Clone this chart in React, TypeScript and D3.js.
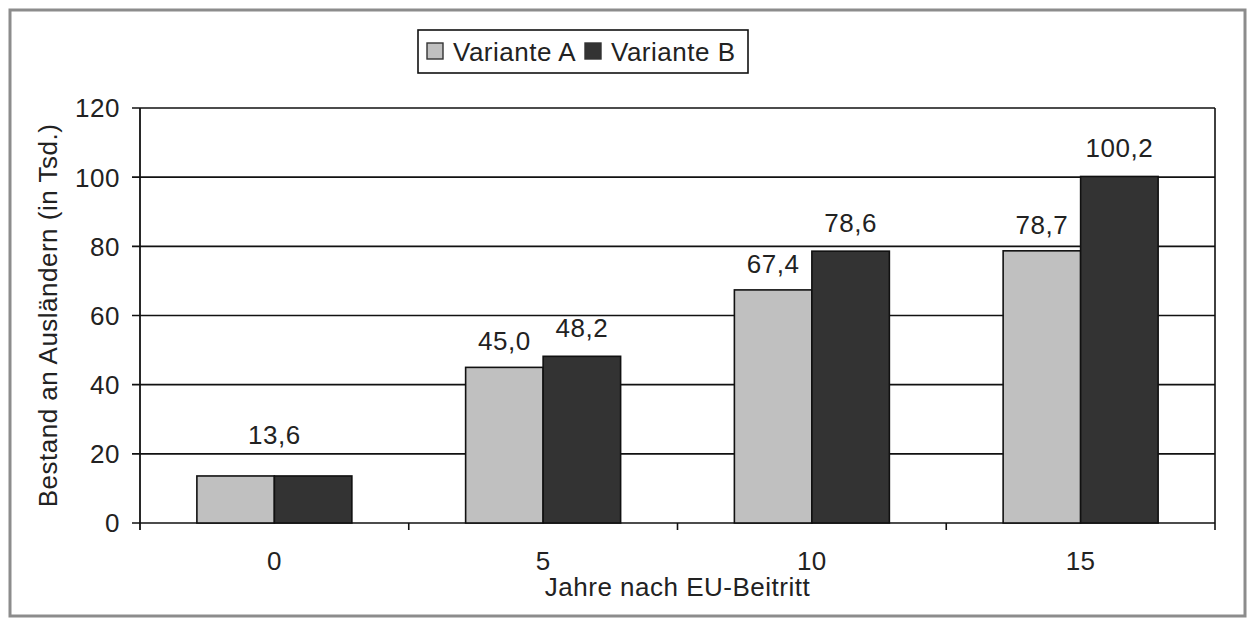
import { useEffect, useRef } from "react";
import * as d3 from "d3";

const categories = ["0", "5", "10", "15"];
const seriesNames = ["Variante A", "Variante B"];
const valuesA = [13.6, 45.0, 67.4, 78.7];
const valuesB = [13.6, 48.2, 78.6, 100.2];
const yTicks = [0, 20, 40, 60, 80, 100, 120];
const colors = ["#c0c0c0", "#333333"];

const xTitle = "Jahre nach EU-Beitritt";
const yTitle = "Bestand an Ausländern (in Tsd.)";

export default function App() {
  const ref = useRef<SVGSVGElement | null>(null);

  useEffect(() => {
    if (!ref.current) return;

    const W = 1254;
    const H = 618;
    const margin = { top: 108, right: 39, bottom: 95, left: 140 };
    const width = W - margin.left - margin.right;
    const height = H - margin.top - margin.bottom;
    const font = "'Liberation Sans', Arial, sans-serif";
    const fontSize = 26;
    const spacing = 0.5;
    const textColor = "#222";

    const root = d3.select(ref.current);
    root.selectAll("*").remove();
    root.attr("width", W).attr("height", H);

    root
      .append("rect")
      .attr("width", W)
      .attr("height", H)
      .attr("fill", "#fff");

    // outer frame
    root
      .append("rect")
      .attr("x", 10)
      .attr("y", 10)
      .attr("width", 1235)
      .attr("height", 606)
      .attr("fill", "none")
      .attr("stroke", "#8c8c8c")
      .attr("stroke-width", 3);

    const svg = root
      .append("g")
      .attr("transform", `translate(${margin.left},${margin.top})`);

    const x = d3.scaleBand().domain(categories).range([0, width]).padding(0);
    const xs = d3
      .scaleBand()
      .domain(seriesNames)
      .range([0, x.bandwidth()])
      .paddingInner(0)
      .paddingOuter(0.734);
    const y = d3.scaleLinear().domain([0, 120]).range([height, 0]);

    const fmt = d3.formatLocale({
      decimal: ",",
      thousands: ".",
      grouping: [3],
      currency: ["", " €"],
    }).format(".1f");

    const label = (sel: d3.Selection<any, any, any, any>) =>
      sel
        .attr("font-family", font)
        .attr("font-size", fontSize)
        .attr("letter-spacing", spacing)
        .attr("fill", textColor);

    // gridlines
    svg
      .append("g")
      .selectAll("line")
      .data(yTicks)
      .join("line")
      .attr("x1", -8)
      .attr("x2", width)
      .attr("y1", (d) => y(d))
      .attr("y2", (d) => y(d))
      .attr("stroke", "#111")
      .attr("stroke-width", 1.6);

    // y tick labels
    svg
      .append("g")
      .selectAll("text")
      .data(yTicks)
      .join("text")
      .attr("x", -20)
      .attr("y", (d) => y(d))
      .attr("dy", "0.36em")
      .attr("text-anchor", "end")
      .call(label)
      .text((d) => String(d));

    // bars
    const series = [valuesA, valuesB];
    series.forEach((vals, si) => {
      svg
        .append("g")
        .selectAll("rect")
        .data(vals)
        .join("rect")
        .attr("x", (_, i) => (x(categories[i]) ?? 0) + (xs(seriesNames[si]) ?? 0))
        .attr("y", (d) => y(d))
        .attr("width", xs.bandwidth())
        .attr("height", (d) => height - y(d))
        .attr("fill", colors[si])
        .attr("stroke", "#111")
        .attr("stroke-width", 1.6);
    });

    // value labels
    categories.forEach((c, i) => {
      const a = valuesA[i];
      const b = valuesB[i];
      const text = (xPos: number, v: number, off: number) =>
        svg
          .append("text")
          .attr("x", xPos)
          .attr("y", y(v) - off)
          .attr("text-anchor", "middle")
          .call(label)
          .text(fmt(v));
      if (a === b) {
        text((x(c) ?? 0) + x.bandwidth() / 2, a, 32);
      } else {
        text((x(c) ?? 0) + (xs(seriesNames[0]) ?? 0) + xs.bandwidth() / 2, a, 17);
        text((x(c) ?? 0) + (xs(seriesNames[1]) ?? 0) + xs.bandwidth() / 2, b, 19);
      }
    });

    // axes lines
    svg
      .append("line")
      .attr("x1", 0)
      .attr("x2", 0)
      .attr("y1", 0)
      .attr("y2", height + 7)
      .attr("stroke", "#111")
      .attr("stroke-width", 1.8);
    svg
      .append("line")
      .attr("x1", width)
      .attr("x2", width)
      .attr("y1", 0)
      .attr("y2", height + 7)
      .attr("stroke", "#111")
      .attr("stroke-width", 1.6);

    // x ticks at band boundaries
    svg
      .append("g")
      .selectAll("line")
      .data(categories.slice(1))
      .join("line")
      .attr("x1", (d) => x(d) ?? 0)
      .attr("x2", (d) => x(d) ?? 0)
      .attr("y1", height)
      .attr("y2", height + 7)
      .attr("stroke", "#111")
      .attr("stroke-width", 1.6);

    // x tick labels
    svg
      .append("g")
      .selectAll("text")
      .data(categories)
      .join("text")
      .attr("x", (d) => (x(d) ?? 0) + x.bandwidth() / 2)
      .attr("y", height + 47)
      .attr("text-anchor", "middle")
      .call(label)
      .text((d) => d);

    // axis titles
    svg
      .append("text")
      .attr("x", width / 2)
      .attr("y", height + 73)
      .attr("text-anchor", "middle")
      .call(label)
      .text(xTitle);

    svg
      .append("text")
      .attr("transform", `translate(${-92},${height / 2}) rotate(-90)`)
      .attr("dy", "0.36em")
      .attr("text-anchor", "middle")
      .call(label)
      .text(yTitle);

    // legend
    const lg = root.append("g").attr("transform", "translate(418,30)");
    lg.append("rect")
      .attr("width", 330)
      .attr("height", 43)
      .attr("fill", "#fff")
      .attr("stroke", "#111")
      .attr("stroke-width", 1.6);
    const legendX = [9, 167];
    seriesNames.forEach((name, i) => {
      lg.append("rect")
        .attr("x", legendX[i])
        .attr("y", 13)
        .attr("width", 16)
        .attr("height", 16)
        .attr("fill", colors[i])
        .attr("stroke", "#333")
        .attr("stroke-width", 1.4);
      lg.append("text")
        .attr("x", legendX[i] + 26)
        .attr("y", 31)
        .call(label)
        .text(name);
    });
  }, []);

  return (
    <svg
      ref={ref}
      style={{ position: "absolute", left: 0, top: 0, display: "block" }}
    />
  );
}
